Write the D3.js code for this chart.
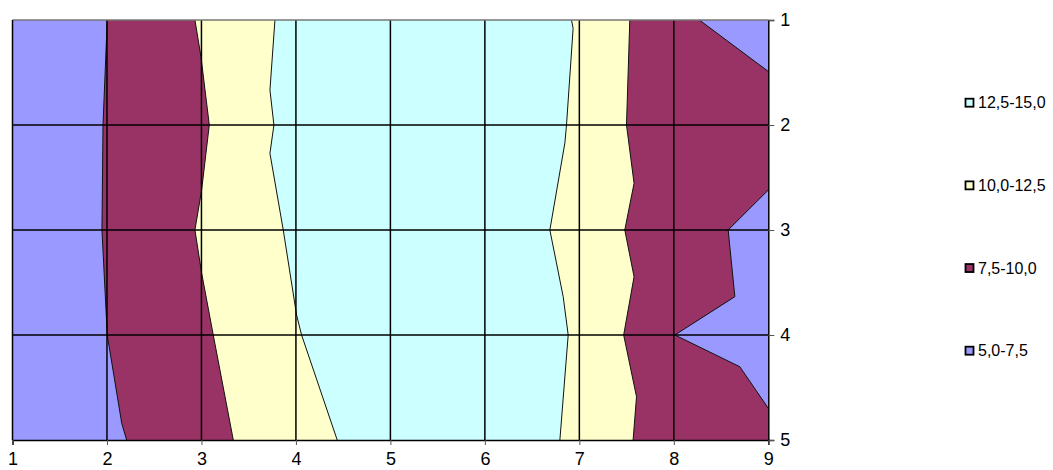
<!DOCTYPE html>
<html>
<head>
<meta charset="utf-8">
<script src="https://cdn.jsdelivr.net/npm/d3@7"></script>
<style>
  html, body { margin: 0; padding: 0; background: #fff; }
  svg { display: block; }
  text { font-family: "Liberation Sans", Arial, sans-serif; fill: #000; }
</style>
</head>
<body>
<svg id="chart" width="1053" height="470"></svg>
<script>
// ---- data ----
const xTicks = [1, 2, 3, 4, 5, 6, 7, 8, 9];
const yTicks = [1, 2, 3, 4, 5];
const bandLabels = ["12,5-15,0", "10,0-12,5", "7,5-10,0", "5,0-7,5"];
const bandColors = ["#CCFFFF", "#FFFFCC", "#993366", "#9999FF"];

// contour boundaries in data coordinates [x, y]
const contour75Left = [[2.003, 1], [1.958, 2], [1.947, 3], [2.003, 4], [2.156, 4.84], [2.208, 5]];
const contour75TopRight = [[8.27, 1], [9, 1.49]];
const contour75MidRight = [[9, 2.619], [8.575, 3], [8.646, 3.635], [8.011, 4], [8.698, 4.302], [9, 4.698]];
const contour10Left = [[2.931, 1], [2.995, 1.35], [3.083, 2], [3.002, 2.62], [2.931, 3], [3.002, 3.41], [3.125, 4], [3.337, 5]];
const contour10Right = [[7.534, 1], [7.499, 2], [7.579, 2.555], [7.481, 3], [7.579, 3.445], [7.469, 4], [7.605, 4.588], [7.569, 5]];
const contour125Left = [[3.778, 1], [3.725, 1.667], [3.767, 2], [3.725, 2.27], [3.866, 3], [4.007, 3.81], [4.06, 4], [4.437, 5]];
const contour125Right = [[6.917, 1], [6.934, 1.08], [6.864, 2], [6.847, 2.17], [6.688, 3], [6.829, 3.635], [6.882, 4], [6.794, 5]];

// ---- drawing ----
const svg = d3.select("#chart");
const x = d3.scaleLinear().domain([1, 9]).range([12.5, 768.3]);
const y = d3.scaleLinear().domain([1, 5]).range([20, 440]);
const line = d3.line().x(d => x(d[0])).y(d => y(d[1]));
const rev = a => a.slice().reverse();

const xMin = xTicks[0], xMax = xTicks[xTicks.length - 1];
const yMin = yTicks[0], yMax = yTicks[yTicks.length - 1];

// lowest band fills the whole plot
const full = [[xMin, yMin], [xMax, yMin], [xMax, yMax], [xMin, yMax]];
const region75 = contour75Left.concat([[xMax, yMax]], rev(contour75MidRight), rev(contour75TopRight));
const region10 = contour10Left.concat(rev(contour10Right));
const region125 = contour125Left.concat(rev(contour125Right));

const regions = [
  { pts: full, color: bandColors[3] },
  { pts: region75, color: bandColors[2] },
  { pts: region10, color: bandColors[1] },
  { pts: region125, color: bandColors[0] }
];
svg.append("g").selectAll("path").data(regions).join("path")
  .attr("d", d => line(d.pts) + "Z")
  .attr("fill", d => d.color)
  .attr("stroke", "none");

// contour lines
const contours = [contour75Left, contour75TopRight, contour75MidRight, contour10Left, contour10Right, contour125Left, contour125Right];
svg.append("g").selectAll("path").data(contours).join("path")
  .attr("d", d => line(d))
  .attr("fill", "none")
  .attr("stroke", "#111")
  .attr("stroke-width", 1);

// gridlines
const grid = svg.append("g").attr("stroke", "#000").attr("stroke-width", 1.5);
grid.selectAll("line.v").data(xTicks.slice(1, -1)).join("line")
  .attr("x1", d => x(d)).attr("x2", d => x(d)).attr("y1", y(yMin)).attr("y2", y(yMax));
grid.selectAll("line.h").data(yTicks.slice(1, -1)).join("line")
  .attr("x1", x(xMin)).attr("x2", x(xMax)).attr("y1", d => y(d)).attr("y2", d => y(d));

// frame
svg.append("line").attr("x1", x(xMin)).attr("x2", x(xMax)).attr("y1", y(yMin)).attr("y2", y(yMin))
  .attr("stroke", "#777").attr("stroke-width", 1.5);
svg.append("line").attr("x1", x(xMin)).attr("x2", x(xMin)).attr("y1", y(yMin)).attr("y2", y(yMax))
  .attr("stroke", "#000").attr("stroke-width", 1.5);

// bottom axis
const xAxis = d3.axisBottom(x).tickValues(xTicks).tickFormat(d3.format("d")).tickSize(5).tickPadding(7);
const gx = svg.append("g").attr("transform", `translate(0,${y(yMax)})`).call(xAxis);
gx.select(".domain").attr("stroke", "#000").attr("stroke-width", 1.5);
gx.selectAll(".tick line").attr("stroke", "#555");
gx.selectAll("text").attr("font-size", 18).attr("font-family", "Liberation Sans, Arial, sans-serif");

// right axis
const yAxis = d3.axisRight(y).tickValues(yTicks).tickFormat(d3.format("d")).tickSize(6).tickPadding(6);
const gy = svg.append("g").attr("transform", `translate(${x(xMax)},0)`).call(yAxis);
gy.select(".domain").attr("stroke", "#000").attr("stroke-width", 1.5);
gy.selectAll(".tick line").attr("stroke", "#555");
gy.selectAll("text").attr("font-size", 18).attr("font-family", "Liberation Sans, Arial, sans-serif");

// legend
const legendY = d3.scalePoint().domain(bandLabels).range([102.7, 350.7]);
const lg = svg.append("g").selectAll("g").data(bandLabels).join("g")
  .attr("transform", d => `translate(965,${legendY(d)})`);
lg.append("rect").attr("x", 0.5).attr("y", -4).attr("width", 8).attr("height", 8)
  .attr("fill", (d, i) => bandColors[i]).attr("stroke", "#000").attr("stroke-width", 1.8);
lg.append("text").attr("x", 13).attr("y", 0).attr("dy", "0.35em")
  .attr("font-size", 16).text(d => d);
</script>
</body>
</html>
